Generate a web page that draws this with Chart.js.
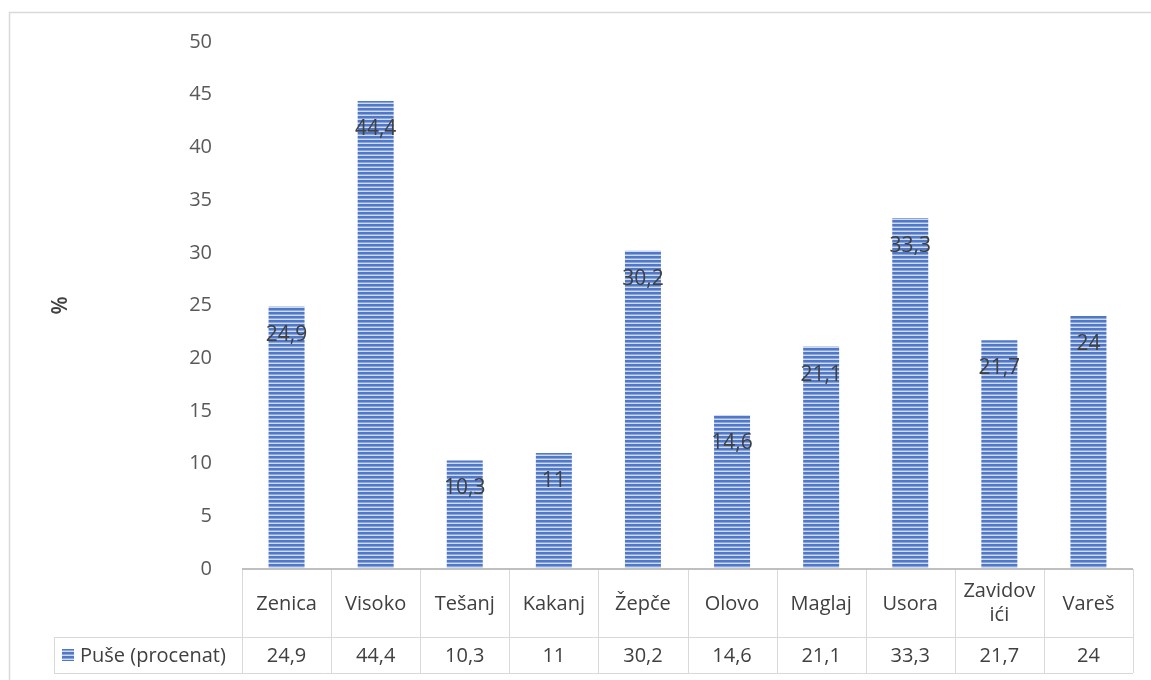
<!DOCTYPE html>
<html>
<head>
<meta charset="utf-8">
<script src="https://cdn.jsdelivr.net/npm/chart.js@4/dist/chart.umd.min.js"></script>
<style>
  body { margin: 0; background: #ffffff; }
  #wrap { width: 1151px; height: 680px; position: relative; }
</style>
</head>
<body>
<div id="wrap"><canvas id="chart1" width="1151" height="680"></canvas></div>
<script>
var gradovi = ['Zenica', 'Visoko', 'Tešanj', 'Kakanj', 'Žepče', 'Olovo', 'Maglaj', 'Usora', ['Zavidov', 'ići'], 'Vareš'];
var puse = [24.9, 44.4, 10.3, 11, 30.2, 14.6, 21.1, 33.3, 21.7, 24];
var nazivSerije = 'Puše (procenat)';
var yTicks = [0, 5, 10, 15, 20, 25, 30, 35, 40, 45, 50];

var fontIme = "'Open Sans', 'Liberation Sans', sans-serif";

// prugasti uzorak kao u Excelu
function napraviUzorak(ctx) {
    var c = document.createElement('canvas');
    c.width = 4;
    c.height = 4;
    var g = c.getContext('2d');
    g.fillStyle = '#cfdaf0';
    g.fillRect(0, 0, 4, 4);
    g.fillStyle = '#4f79c8';
    g.fillRect(0, 0, 4, 2);
    g.fillStyle = '#8aa6da';
    g.fillRect(0, 2, 4, 1);
    return ctx.createPattern(c, 'repeat');
}

function zarez(v) {
    return String(v).replace('.', ',');
}

var canvas = document.getElementById('chart1').getContext('2d');
var uzorak = napraviUzorak(canvas);

var oznakePlugin = {
    id: 'oznake',
    afterDatasetsDraw: function (chart) {
        var ctx = chart.ctx;
        var meta = chart.getDatasetMeta(0);
        ctx.save();
        ctx.font = '21px ' + fontIme;
        ctx.fillStyle = '#404040';
        ctx.textAlign = 'center';
        ctx.textBaseline = 'middle';
        meta.data.forEach(function (bar, i) {
            ctx.fillText(zarez(puse[i]), bar.x, bar.y + 28);
        });
        ctx.restore();
    }
};

var tabelaPlugin = {
    id: 'tabela',
    afterDraw: function (chart) {
        var ctx = chart.ctx;
        var area = chart.chartArea;
        var xs = chart.scales.x;
        var n = gradovi.length;
        var w = (area.right - area.left) / n;
        var r1 = area.bottom;
        var r2 = r1 + 68;
        var r3 = r2 + 36;
        var lijevo = 54;

        ctx.save();
        // okvir cijelog grafikona
        ctx.strokeStyle = '#d9d9d9';
        ctx.lineWidth = 1.5;
        ctx.strokeRect(9.5, 12.5, 1170, 700);

        ctx.lineWidth = 1;
        ctx.strokeStyle = '#d9d9d9';
        ctx.beginPath();
        ctx.moveTo(lijevo, r2 + 0.5); ctx.lineTo(area.right, r2 + 0.5);
        ctx.moveTo(lijevo, r3 + 0.5); ctx.lineTo(area.right, r3 + 0.5);
        ctx.moveTo(lijevo + 0.5, r2); ctx.lineTo(lijevo + 0.5, r3);
        for (var i = 0; i <= n; i++) {
            var x = Math.round(area.left + i * w) + 0.5;
            ctx.moveTo(x, r1); ctx.lineTo(x, r3);
        }
        ctx.stroke();

        // os x
        ctx.strokeStyle = '#bfbfbf';
        ctx.lineWidth = 2;
        ctx.beginPath();
        ctx.moveTo(area.left, r1);
        ctx.lineTo(area.right, r1);
        ctx.stroke();

        ctx.font = '20px ' + fontIme;
        ctx.fillStyle = '#404040';
        ctx.textAlign = 'center';
        ctx.textBaseline = 'middle';
        for (var j = 0; j < n; j++) {
            var cx = xs.getPixelForValue(j);
            var lab = gradovi[j];
            if (Array.isArray(lab)) {
                ctx.fillText(lab[0], cx, r1 + 22);
                ctx.fillText(lab[1], cx, r1 + 46);
            } else {
                ctx.fillText(lab, cx, r1 + 35);
            }
            ctx.fillText(zarez(puse[j]), cx, r2 + 19);
        }

        // legenda u tabeli
        ctx.fillStyle = uzorak;
        ctx.fillRect(62, r2 + 12, 12, 12);
        ctx.fillStyle = '#404040';
        ctx.textAlign = 'left';
        ctx.fillText(nazivSerije, 80, r2 + 19);
        ctx.restore();
    }
};

window.bar = new Chart(canvas, {
    type: 'bar',
    data: {
        labels: gradovi,
        datasets: [{
            label: nazivSerije,
            data: puse,
            backgroundColor: uzorak,
            borderWidth: 0,
            categoryPercentage: 1,
            barPercentage: 0.404
        }]
    },
    options: {
        responsive: false,
        animation: false,
        layout: {
            padding: { left: 0, right: 18, top: 42, bottom: 111 }
        },
        plugins: {
            legend: { display: false },
            tooltip: { enabled: false }
        },
        scales: {
            x: {
                display: false
            },
            y: {
                min: 0,
                max: 50,
                afterBuildTicks: function (s) {
                    s.ticks = yTicks.map(function (v) { return { value: v }; });
                },
                afterFit: function (s) {
                    s.width = 242;
                },
                grid: { display: false },
                border: { display: false },
                ticks: {
                    color: '#595959',
                    padding: 22,
                    font: { size: 20, family: fontIme }
                },
                title: {
                    display: true,
                    text: '%',
                    color: '#404040',
                    padding: { top: 48, bottom: 0 },
                    font: { size: 21, family: fontIme, weight: '600' }
                }
            }
        }
    },
    plugins: [oznakePlugin, tabelaPlugin]
});
</script>
</body>
</html>
